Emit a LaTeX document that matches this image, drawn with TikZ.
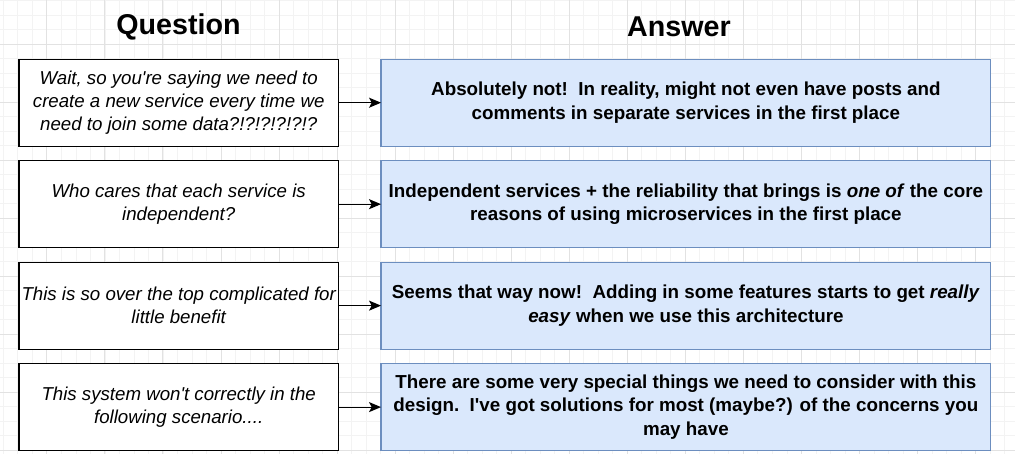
\documentclass[tikz,border=0pt]{standalone}
\usepackage{fontspec}
\setmainfont{Liberation Sans}
\usepackage{xcolor}
\usetikzlibrary{positioning,arrows.meta}

\definecolor{answerfill}{HTML}{DAE8FC}
\definecolor{answerline}{HTML}{6C8EBF}
\definecolor{gridminor}{HTML}{F3F3F3}
\definecolor{gridmajor}{HTML}{E2E2E2}

\tikzset{
  question/.style={draw, line width=0.9pt, fill=white, align=center, inner sep=0pt, outer sep=0pt,
    minimum width=239.5pt, minimum height=65.2pt, font=\fontsize{14}{17.5}\selectfont\itshape},
  answer/.style={draw=answerline, line width=0.9pt, fill=answerfill, align=center, inner sep=0pt, outer sep=0pt,
    minimum width=457.3pt, minimum height=65.2pt, font=\fontsize{14.1}{17.5}\selectfont\bfseries},
  heading/.style={font=\fontsize{21.5}{25}\selectfont\bfseries},
  link/.style={-{Stealth[length=9pt, width=7.5pt, inset=2pt]}, line width=0.9pt}
}

\begin{document}
\begin{tikzpicture}[x=0.75pt, y=-0.75pt]
    \useasboundingbox (0,0) rectangle (1015,454);
    % grid
    \foreach \i in {0,...,70} \draw[gridminor, line width=0.5pt] (3.3+14.51*\i,0) -- (3.3+14.51*\i,454);
    \foreach \i in {0,...,31} \draw[gridminor, line width=0.5pt] (0,0.5+14.51*\i) -- (1015,0.5+14.51*\i);
    \foreach \i in {0,...,17} \draw[gridmajor, line width=0.5pt] (46.7+58.05*\i,0) -- (46.7+58.05*\i,454);
    \foreach \i in {0,...,7} \draw[gridmajor, line width=0.5pt] (0,44.2+58.05*\i) -- (1015,44.2+58.05*\i);

    \node[heading] (qtitle) at (178.5,27) {Question};
    \node[heading] (atitle) at (679,27) {Answer};

    \node[question] (q1) at (178.7,102.7) {Wait, so you\textquotesingle re saying we need to\\create a new service every time we\\need to join some data?!?!?!?!?!?};
    \node[question] (q2) [below=10.9pt of q1] {Who cares that each service is\\independent?};
    \node[question] (q3) [below=10.9pt of q2] {This is so over the top complicated for\\little benefit};
    \node[question] (q4) [below=10.9pt of q3] {This system won\textquotesingle t correctly in the\\following scenario....};

    \node[answer] (a1) [right=32pt of q1] {Absolutely not!\ \ In reality, might not even have posts and\\comments in separate services in the first place};
    \node[answer] (a2) [right=32pt of q2] {Independent services + the reliability that brings is \textit{one of} the core\\reasons of using microservices in the first place};
    \node[answer] (a3) [right=32pt of q3] {Seems that way now!\ \ Adding in some features starts to get \textit{really}\\\textit{easy} when we use this architecture};
    \node[answer] (a4) [right=32pt of q4] {There are some very special things we need to consider with this\\design.\ \ I\textquotesingle ve got solutions for most (maybe?) of the concerns you\\may have};

    \draw[link] (q1) -- (a1);
    \draw[link] (q2) -- (a2);
    \draw[link] (q3) -- (a3);
    \draw[link] (q4) -- (a4);
\end{tikzpicture}
\end{document}
